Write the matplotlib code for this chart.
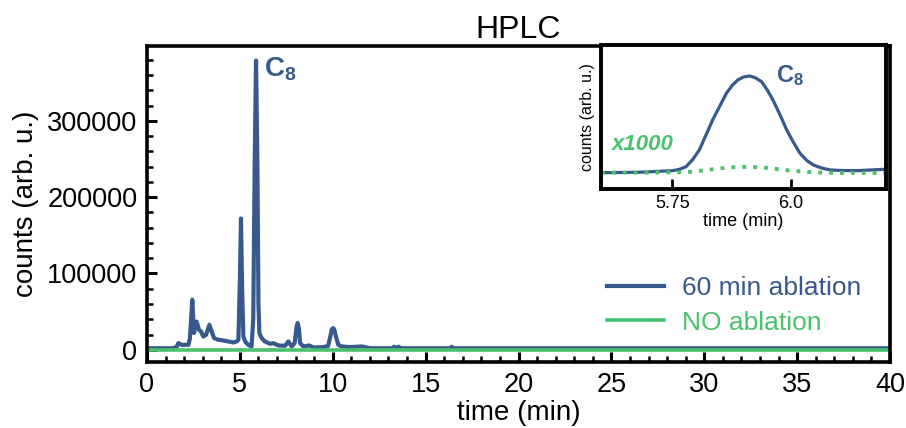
import matplotlib
matplotlib.use("Agg")
import matplotlib.pyplot as plt
from matplotlib.ticker import MultipleLocator

plt.rcParams['font.family'] = ['Liberation Sans', 'DejaVu Sans']
plt.rcParams['mathtext.fontset'] = 'custom'
plt.rcParams['mathtext.rm'] = 'Liberation Sans'
plt.rcParams['mathtext.bf'] = 'Liberation Sans:bold'
plt.rcParams['mathtext.it'] = 'Liberation Sans:italic'

# ---- data ----
time_60 = [0, 1.4, 1.6, 1.69, 1.87, 2.23, 2.31, 2.44, 2.53, 2.67, 2.80, 2.91, 3.03, 3.18,
           3.36, 3.48, 3.61, 3.84, 4.11, 4.38, 4.65, 4.83, 4.92, 5.0, 5.06, 5.12, 5.19,
           5.28, 5.45, 5.63, 5.72, 5.80, 5.87, 5.94, 6.0, 6.05, 6.17, 6.35, 6.62, 6.80,
           7.07, 7.43, 7.61, 7.79, 7.95, 8.05, 8.11, 8.18, 8.24, 8.42, 8.74, 8.96, 9.49,
           9.75, 9.85, 9.95, 10.03, 10.1, 10.17, 10.3, 10.48, 10.93, 11.56, 12.0, 13.2,
           13.3, 13.4, 13.55, 13.65, 13.75, 16.3, 16.4, 16.5, 40]
counts_60 = [2000, 2000, 4000, 8800, 6500, 6500, 15000, 65500, 22000, 37000, 26000, 24000,
             17400, 19700, 32800, 24000, 15300, 13100, 12200, 10900, 9600, 10900, 13100,
             90000, 172000, 80000, 17400, 10900, 6500, 4400, 40000, 250000, 379000, 250000,
             60000, 22000, 15300, 10900, 7900, 8700, 5700, 5200, 10900, 4400, 9000, 30000,
             35000, 28000, 8700, 4400, 5700, 3000, 3500, 5000, 15300, 27000, 28400, 25000,
             17400, 6500, 4400, 3500, 4400, 2000, 2000, 4000, 2000, 4000, 2000, 2000, 2000,
             4000, 2000, 2000]

time_no = [0, 10, 20, 30, 40]
counts_no = [4, 4, 4, 4, 4]

inset_time_60 = [5.602, 5.68, 5.75, 5.765, 5.779, 5.793, 5.807, 5.821, 5.835, 5.850, 5.864,
                 5.876, 5.888, 5.900, 5.913, 5.925, 5.938, 5.950, 5.962, 5.977, 5.991, 6.005,
                 6.019, 6.033, 6.047, 6.065, 6.083, 6.11, 6.139, 6.197]
inset_counts_60 = [4200, 5800, 12000, 17000, 27500, 55000, 92200, 150000, 208500, 262000,
                   312000, 342000, 363500, 375000, 379000, 372000, 357000, 325000, 286000,
                   228000, 169700, 122000, 79400, 52000, 34000, 22000, 14700, 12500, 12000,
                   17400]
inset_time_no = [5.6, 5.7, 5.78, 5.82, 5.87, 5.91, 5.95, 6.0, 6.05, 6.1, 6.2]
inset_counts_no = [4.2, 4.5, 6, 14, 25, 27, 23, 12, 5, 3.5, 3.5]
no_scale = 1000

xticks = [0, 5, 10, 15, 20, 25, 30, 35, 40]
yticks = [0, 100000, 200000, 300000]
inset_xticks = [5.75, 6.0]
inset_xticklabels = ['5.75', '6.0']

blue = '#38598b'
green = '#4ac16d'

fig = plt.figure(figsize=(9.06, 4.28), dpi=100)
ax = fig.add_axes([147/906, 1-362/428, 743/906, 316/428])

ax.plot(time_60, counts_60, color=blue, lw=3.0, label='60 min ablation', solid_joinstyle='round')
ax.plot(time_no, counts_no, color=green, lw=2.6, label='NO ablation')

ax.set_xlim(0, 40)
ax.set_ylim(-16000, 398000)
ax.set_xticks(xticks)
ax.set_yticks(yticks)
ax.xaxis.set_minor_locator(MultipleLocator(1))
ax.yaxis.set_minor_locator(MultipleLocator(20000))
ax.tick_params(which='major', direction='in', length=7, width=2.2, labelsize=19.5, pad=7)
ax.tick_params(which='minor', direction='in', length=4, width=1.8)
for s in ax.spines.values():
    s.set_linewidth(2.6)
ax.set_xlabel('time (min)', fontsize=20, labelpad=2)
ax.set_ylabel('counts (arb. u.)', fontsize=20, labelpad=6)
ax.set_title('HPLC', fontsize=23, pad=6)

ax.text(6.3, 367000, r'$\mathbf{C_8}$', color=blue, fontsize=20, ha='left', va='center')

leg = ax.legend(loc='upper left', bbox_to_anchor=(607/906, 1-276/428),
                bbox_transform=fig.transFigure, frameon=False, fontsize=19,
                handlelength=2.15, handletextpad=0.7, labelspacing=0.4,
                borderpad=0, borderaxespad=0, labelcolor='linecolor')

# ---- inset ----
axi = fig.add_axes([601/906, 1-189/428, 285/906, 144/428])
axi.plot(inset_time_60, inset_counts_60, color=blue, lw=2.3, solid_joinstyle='round')
axi.plot(inset_time_no, [v*no_scale for v in inset_counts_no], color=green, lw=2.8,
         linestyle=(0, (1, 1.8)))
axi.set_xlim(5.6, 6.2)
axi.set_ylim(-59000, 499000)
axi.set_xticks(inset_xticks)
axi.set_xticklabels(inset_xticklabels)
axi.set_yticks([])
axi.tick_params(which='major', direction='in', length=7, width=2, labelsize=13, pad=4)
for s in axi.spines.values():
    s.set_linewidth(2.8)
axi.set_xlabel('time (min)', fontsize=13, labelpad=1)
axi.set_ylabel('counts (arb. u.)', fontsize=11.5, labelpad=4)
axi.text(0.615, 0.785, r'$\mathbf{C_8}$', color=blue, fontsize=17, ha='left', va='center',
         transform=axi.transAxes)
axi.text(0.04, 0.306, 'x1000', color=green, fontsize=16, fontweight='bold', fontstyle='italic',
         ha='left', va='center', transform=axi.transAxes)

fig.savefig('out.png', dpi=100)
